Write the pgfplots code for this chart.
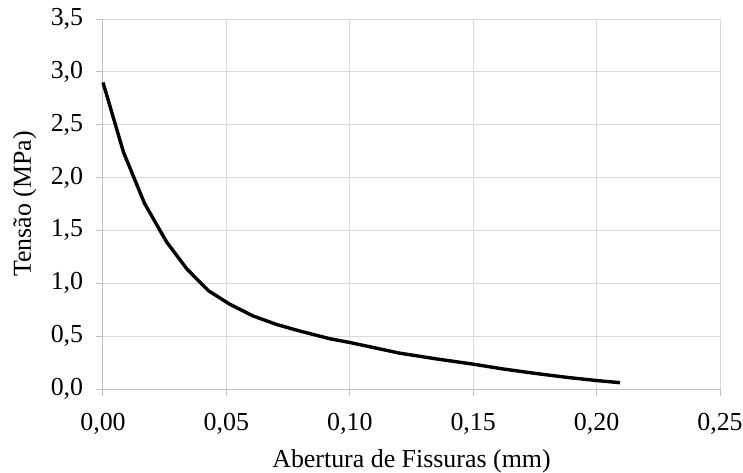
\documentclass[border=0pt]{standalone}
\usepackage{pgfplots}
\pgfplotsset{compat=1.18}
\usetikzlibrary{calc}
\usepackage{fontspec}
\setmainfont{Liberation Serif}
\definecolor{gridc}{HTML}{D9D9D9}
\definecolor{axc}{HTML}{BFBFBF}
\begin{document}
\fontsize{26}{31}\selectfont
\begin{tikzpicture}
\begin{axis}[
  name=ax,
  scale only axis,
  width=617bp, height=370bp,
  xmin=0, xmax=0.25, ymin=0, ymax=3.5,
  xtick={0,0.05,...,0.25}, ytick={0,0.5,...,3.5},
  axis x line=bottom, axis y line=left,
  axis line style={axc, line width=1bp, -},
  x axis line style={-}, y axis line style={-},
  grid=major,
  major grid style={gridc, line width=1bp},
  tick align=outside,
  major tick length=7bp,
  tick style={axc, line width=1bp},
  xticklabel style={yshift=-8bp, /pgf/number format/.cd, use comma, fixed, fixed zerofill, precision=2},
  yticklabel style={xshift=-4bp, /pgf/number format/.cd, use comma, fixed, fixed zerofill, precision=1},
  /pgf/number format/assume math mode=true,
  ticklabel style={font=\fontsize{26}{31}\selectfont},
  label style={font=\fontsize{26}{31}\selectfont},
  xlabel={Abertura de Fissuras (mm)},
  ylabel={Tensão (MPa)},
  xlabel style={yshift=2bp},
  ylabel style={yshift=-3bp},
  clip=false,
]
\addplot[black, line width=3.4bp, line join=round] coordinates {
(0.0000,2.90)
(0.0083,2.24)
(0.0168,1.757)
(0.0258,1.39)
(0.0340,1.135)
(0.0427,0.93)
(0.0515,0.80)
(0.0609,0.69)
(0.0704,0.61)
(0.0790,0.553)
(0.0920,0.475)
(0.1000,0.440)
(0.1100,0.390)
(0.1200,0.340)
(0.1350,0.285)
(0.1500,0.235)
(0.1620,0.190)
(0.1750,0.148)
(0.1880,0.110)
(0.2000,0.080)
(0.2095,0.060)
};
\end{axis}
\pgfresetboundingbox
\path ($(ax.south west)+(-103bp,-84bp)$) rectangle ($(ax.north east)+(23bp,19bp)$);
\end{tikzpicture}
\end{document}
